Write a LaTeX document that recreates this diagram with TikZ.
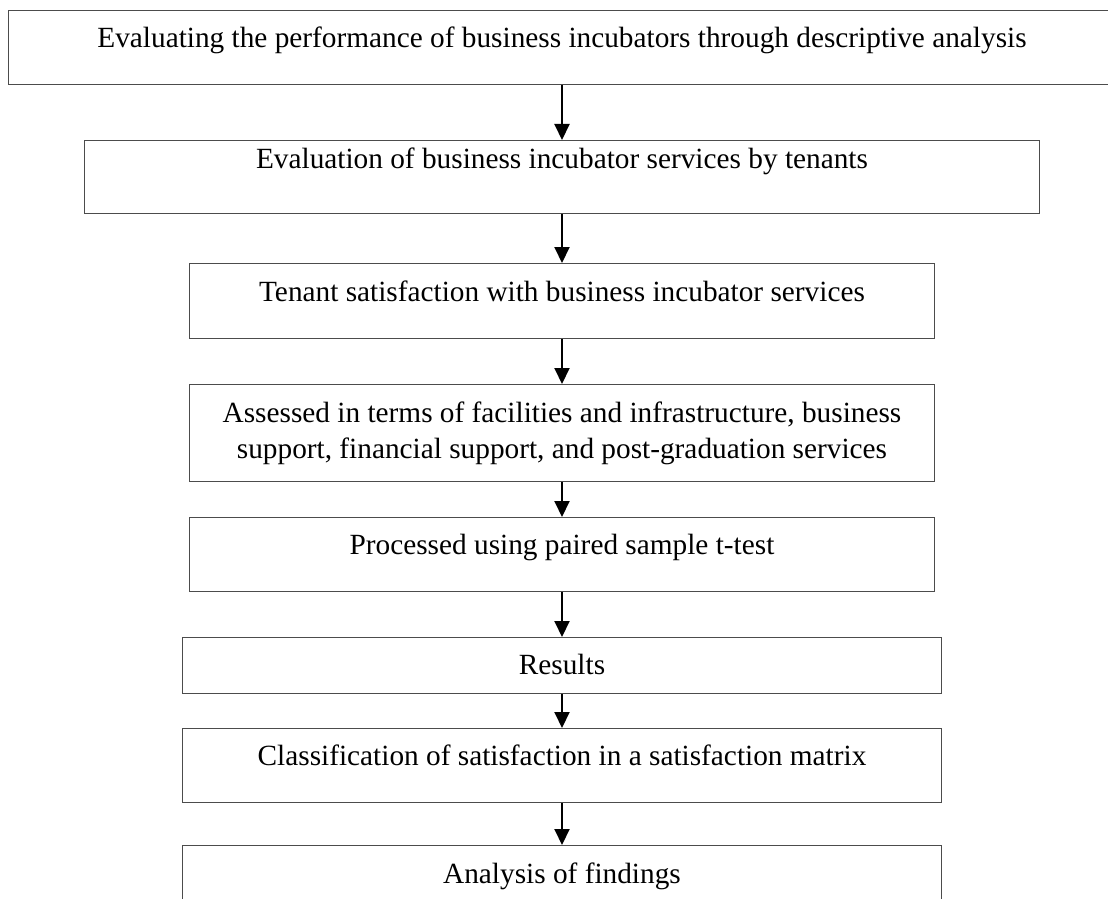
\documentclass[tikz,border=0pt]{standalone}
\usepackage{fontspec}
\setmainfont{Liberation Serif}
\usetikzlibrary{arrows.meta}

\begin{document}
\begin{tikzpicture}[x=0.5pt,y=-0.5pt,
		box/.style={draw=black!70, line width=0.5pt, inner sep=0pt, anchor=north, align=center, font=\fontsize{14.65}{18}\selectfont},
		flow/.style={-{Triangle[length=8pt,width=7.5pt]}, line width=1pt}]
		\clip (0,0) rectangle (1108,899);
		\node[box, minimum width=554pt, text height=18.5pt, text depth=18.5pt] (perf) at (562,10) {Evaluating the performance of business incubators through descriptive analysis};
		\node[box, minimum width=477.5pt, text height=14pt, text depth=22.5pt] (eval) at (562,140) {Evaluation of business incubator services by tenants};
		\node[box, minimum width=372.5pt, text height=19pt, text depth=18.5pt] (satis) at (562,263) {Tenant satisfaction with business incubator services};
		\node[box, minimum width=372.5pt, minimum height=48.5pt] (assess) at (562,384) {Assessed in terms of facilities and infrastructure, business\\support, financial support, and post-graduation services};
		\node[box, minimum width=372.5pt, text height=18.5pt, text depth=18.5pt] (ttest) at (562,517) {Processed using paired sample t-test};
		\node[box, minimum width=379.5pt, text height=18.5pt, text depth=9.5pt] (res) at (562,637) {Results};
		\node[box, minimum width=379.5pt, text height=18.5pt, text depth=18.5pt] (matrix) at (562,728) {Classification of satisfaction in a satisfaction matrix};
		\node[box, minimum width=379.5pt, text height=19pt, text depth=18.5pt] (find) at (562,845) {Analysis of findings};
		\draw[flow] (perf) -- (eval);
		\draw[flow] (eval) -- (satis);
		\draw[flow] (satis) -- (assess);
		\draw[flow] (assess) -- (ttest);
		\draw[flow] (ttest) -- (res);
		\draw[flow] (res) -- (matrix);
		\draw[flow] (matrix) -- (find);
	\end{tikzpicture}
\end{document}
